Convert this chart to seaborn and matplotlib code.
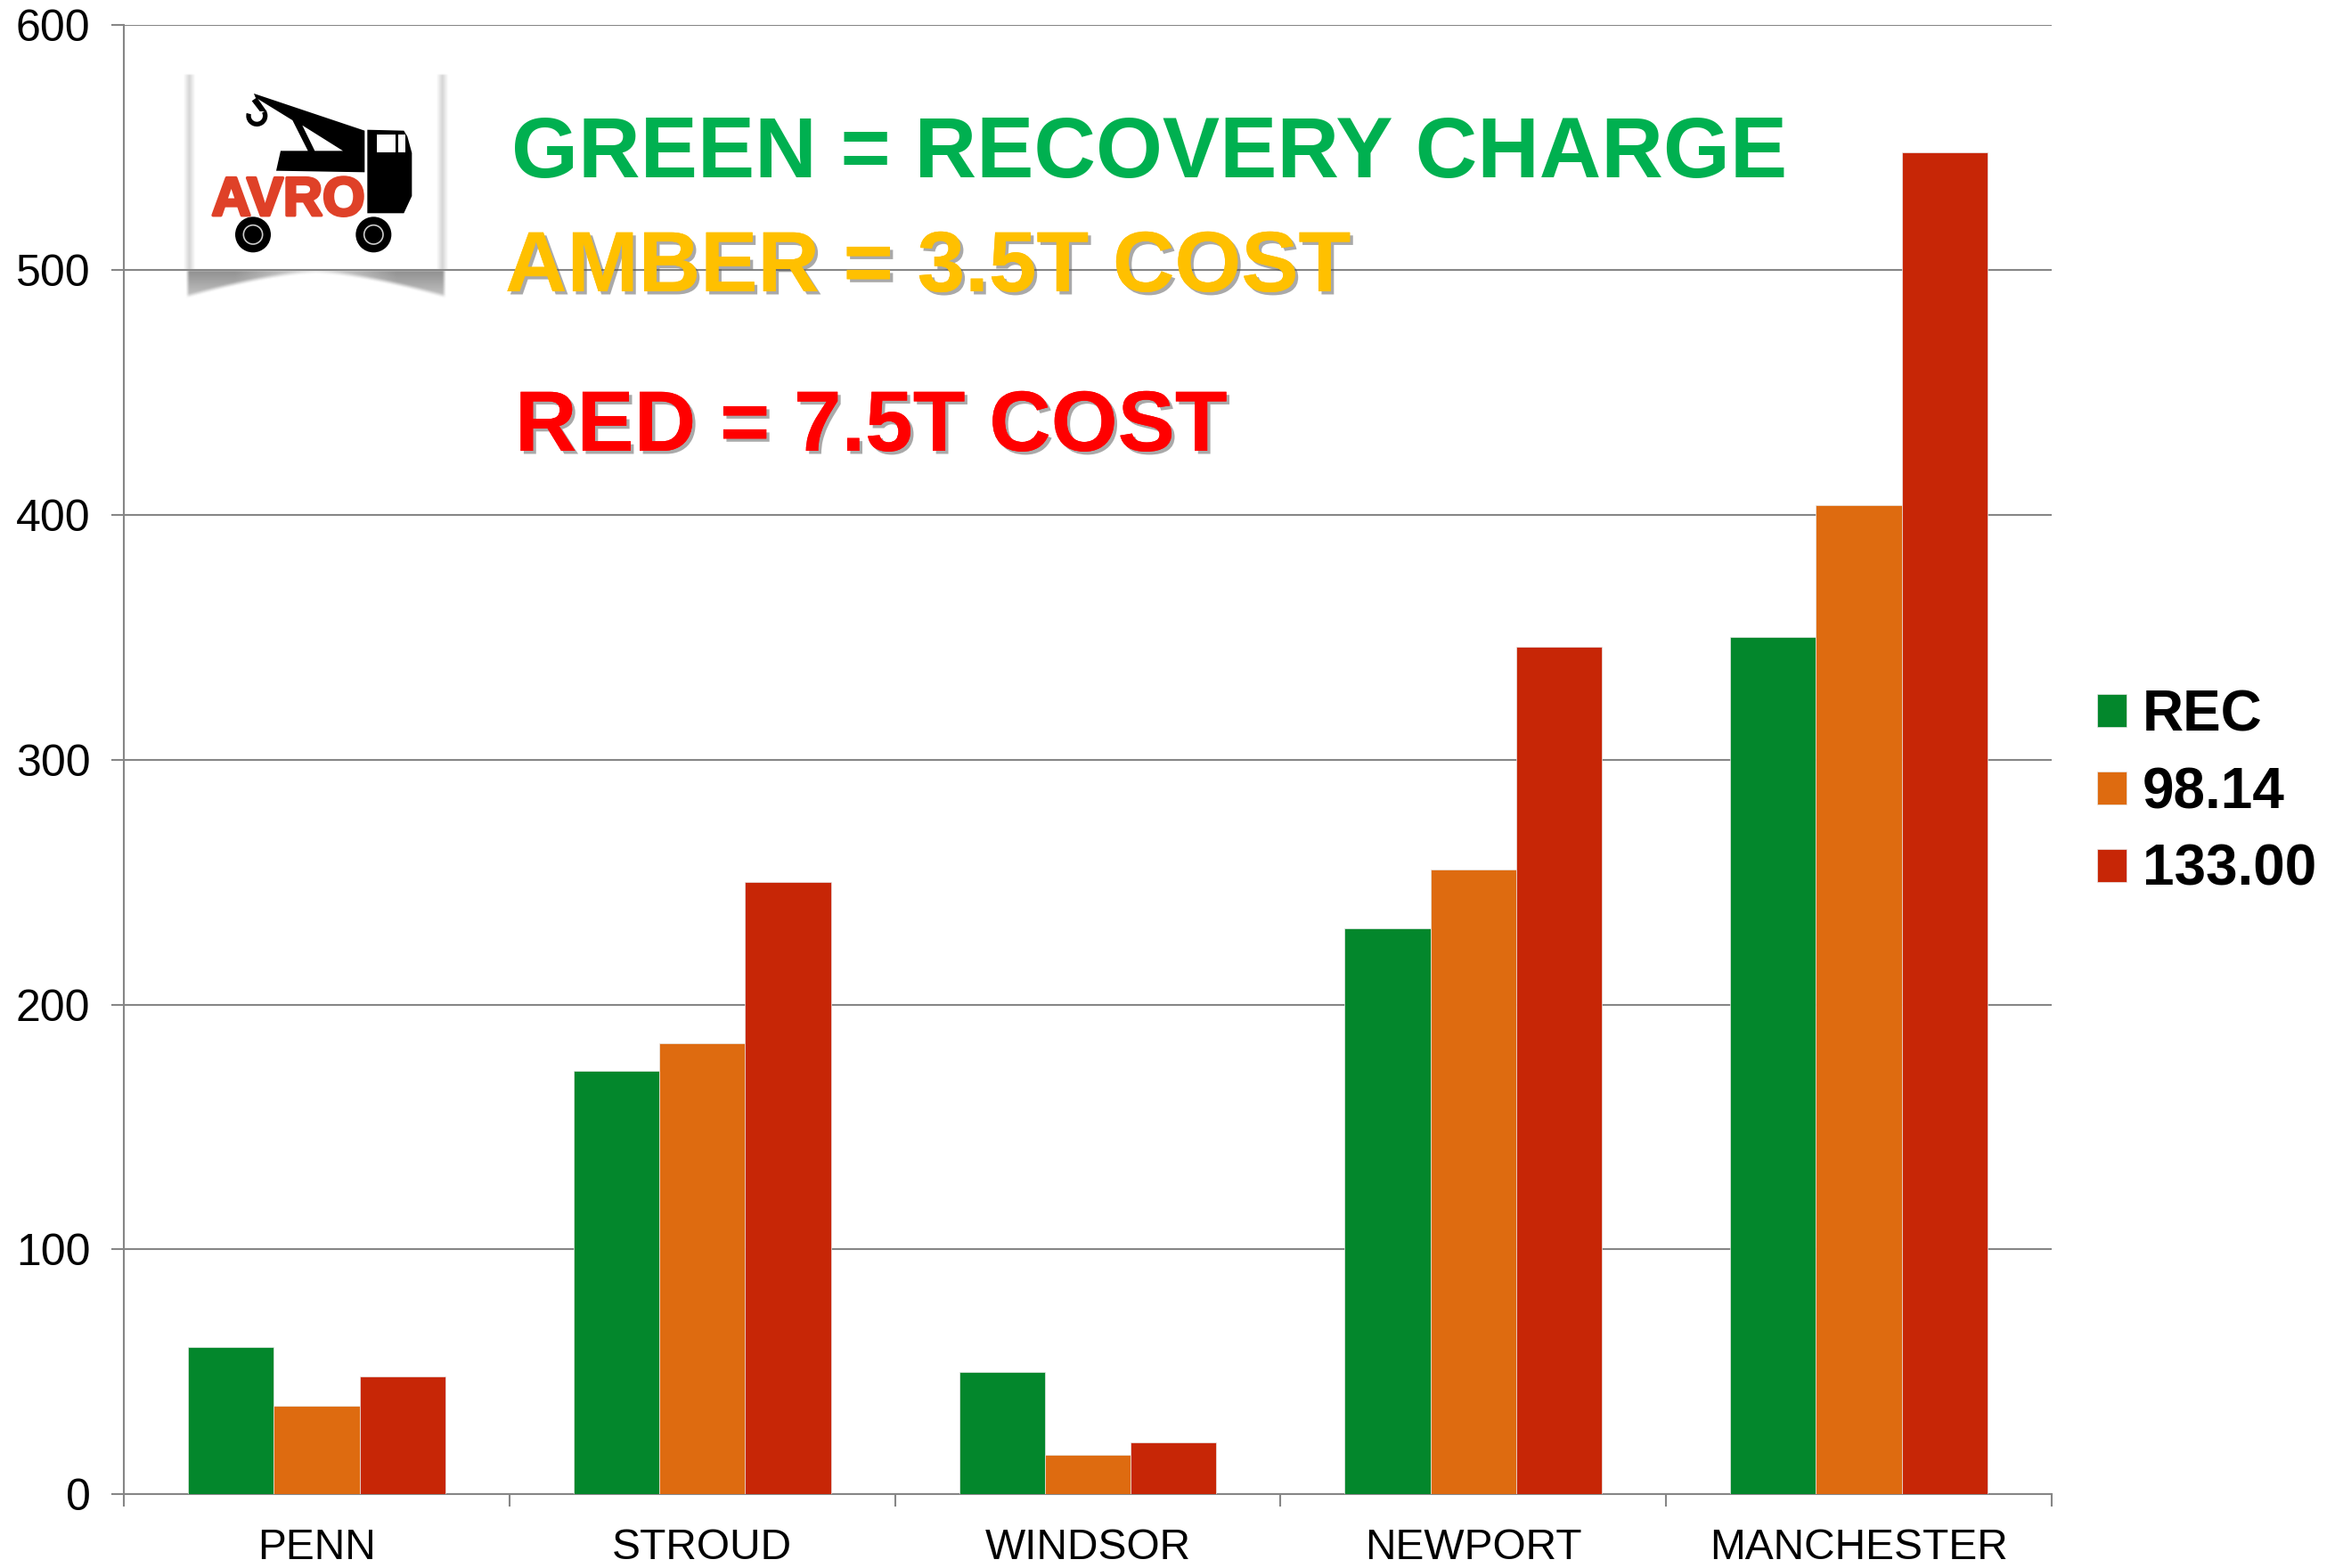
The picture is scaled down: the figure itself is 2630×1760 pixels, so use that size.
import numpy as np
import pandas as pd
import seaborn as sns
import matplotlib.pyplot as plt
import matplotlib.patheffects as pe
from matplotlib.patches import Circle, Polygon, Rectangle, Wedge

W, H = 2630, 1760

sites = ["PENN", "STROUD", "WINDSOR", "NEWPORT", "MANCHESTER"]
rec = [60, 173, 50, 231, 350]
cost_35t = [36, 184, 16, 255, 404]
cost_75t = [48, 250, 21, 346, 548]
series_names = ["REC", "98.14", "133.00"]
series_colors = ["#03872C", "#DE6B10", "#C72606"]
y_ticks = [0, 100, 200, 300, 400, 500, 600]

GREY = "#868686"
FONT = "Liberation Sans"


def draw_logo(fig):
    """Logo sits behind the main axes. Coordinates are in the crop's own units."""
    lx = fig.add_axes([180 / W, 1 - 360 / H, 360 / W, 310 / H], zorder=-1)
    lx.set_xlim(0, 1080)
    lx.set_ylim(930, 0)
    lx.axis("off")

    # soft shadow round the white card
    yy, xx = np.mgrid[0:930:4, 0:1080:4]
    u = np.clip(np.abs(xx - 522) / 437, 0, 1)
    dy = yy - 760
    depth = 12 + 83 * u ** 1.5
    inside = np.clip((depth - dy) / 14, 0, 1) * np.clip(dy / 4, 0, 1)
    edge = np.clip((438 - np.abs(xx - 522)) / 12, 0, 1)
    bottom = inside * edge * (0.25 + 0.55 * np.minimum(u * 1.6, 1)) * (1 - 0.5 * np.clip(dy / 95, 0, 1))
    sides = np.where((yy > 100) & (yy < 760),
                     np.clip(1 - np.abs(np.abs(xx - 522) - 426) / 20, 0, 1) * 0.3, 0)
    rgba = np.zeros(xx.shape + (4,))
    rgba[..., :3] = 0.45
    rgba[..., 3] = np.maximum(bottom, sides)
    lx.imshow(rgba, extent=(0, 1080, 930, 0), aspect="auto", interpolation="bicubic")
    lx.set_xlim(0, 1080)
    lx.set_ylim(930, 0)

    k = "black"
    boom = [(315, 165), (688, 290), (688, 430), (390, 425), (405, 358),
            (497, 358), (445, 255), (320, 178)]
    cab = [(697, 287), (820, 290), (832, 310), (847, 365), (847, 510),
           (820, 568), (697, 568)]
    lx.add_patch(Polygon(boom, fc=k, ec="none"))
    lx.add_patch(Polygon([(478, 272), (615, 358), (520, 358)], fc="white", ec="none"))
    lx.add_patch(Polygon(cab, fc=k, ec="none"))
    lx.add_patch(Rectangle((730, 303), 62, 60, fc="white", ec="none"))
    lx.add_patch(Rectangle((802, 303), 23, 60, fc="white", ec="none"))
    # hook
    lx.add_patch(Polygon([(308, 190), (325, 178), (358, 225), (335, 225)], fc=k, ec="none"))
    lx.add_patch(Wedge((325, 240), 36, -30, 195, width=16, fc=k, ec="none"))
    for cx in (312, 718):
        lx.add_patch(Circle((cx, 640), 60, fc=k, ec="none"))
        lx.add_patch(Circle((cx, 640), 32, fc="none", ec="#cccccc", lw=1.2))
    lx.text(431, 575, "AVRO", color="#DF4128", family=FONT, weight="bold",
            fontsize=44, ha="center", va="baseline",
            path_effects=[pe.withStroke(linewidth=2.5, foreground="#DF4128")])


def add_note(fig, x, y, text, color, shadow=True):
    t = fig.text(x / W, 1 - y / H, text, color=color, family=FONT, weight="bold",
                 fontsize=69.3, ha="left", va="baseline", zorder=5)
    if shadow:
        t.set_path_effects([
            pe.withSimplePatchShadow(offset=(2.5, -2.5), shadow_rgbFace="#555555", alpha=0.5),
            pe.Normal(),
        ])


def main():
    df = pd.DataFrame({"site": sites, series_names[0]: rec,
                       series_names[1]: cost_35t, series_names[2]: cost_75t})
    df = df.melt(id_vars="site", var_name="series", value_name="value")

    sns.set_theme(style="white")
    plt.rcParams["font.family"] = [FONT, "DejaVu Sans"]

    fig = plt.figure(figsize=(W / 100, H / 100), dpi=100, facecolor="white")
    ax = fig.add_axes([139 / W, 1 - 1677 / H, (2303 - 139) / W, (1677 - 28.5) / H], zorder=1)
    ax.patch.set_alpha(0)

    sns.barplot(data=df, x="site", y="value", hue="series", hue_order=series_names,
                palette=series_colors, width=0.667, gap=0, saturation=1,
                edgecolor="#e8e8e8", linewidth=0.5, ax=ax, zorder=3)

    ax.set_xlim(-0.5, len(sites) - 0.5)
    ax.set_ylim(0, 600)
    ax.set_yticks(y_ticks)
    ax.set_xlabel("")
    ax.set_ylabel("")
    ax.grid(axis="y", color=GREY, lw=1.5, zorder=0)
    ax.set_axisbelow(True)
    for name in ("top", "right"):
        ax.spines[name].set_visible(False)
    for name in ("left", "bottom"):
        ax.spines[name].set_color(GREY)
        ax.spines[name].set_linewidth(1.5)

    ax.tick_params(axis="x", which="major", length=0, pad=27, labelsize=34.5, labelcolor="black")
    ax.set_xticks(np.arange(len(sites) + 1) - 0.5, minor=True)
    ax.tick_params(axis="x", which="minor", length=10, width=1.5, color=GREY, bottom=True)
    ax.tick_params(axis="y", length=10, width=1.5, color=GREY, left=True, pad=17,
                   labelsize=36, labelcolor="black")

    handles, labels = ax.get_legend_handles_labels()
    ax.legend_.remove()
    leg = fig.legend(handles, labels, loc="center left", bbox_to_anchor=(2296 / W, 1 - 890 / H),
                     frameon=False, prop={"family": FONT, "weight": "bold", "size": 46},
                     handlelength=0.52, handleheight=0.52, handletextpad=0.28, labelspacing=0.42)
    for t in leg.get_texts():
        t.set_color("black")

    draw_logo(fig)
    add_note(fig, 574, 199, "GREEN = RECOVERY CHARGE", "#00B050", shadow=False)
    add_note(fig, 567, 327, "AMBER = 3.5T COST", "#FFC000")
    add_note(fig, 578, 506, "RED = 7.5T COST", "#FF0000")

    fig.savefig("out.png", dpi=100)


if __name__ == "__main__":
    main()
